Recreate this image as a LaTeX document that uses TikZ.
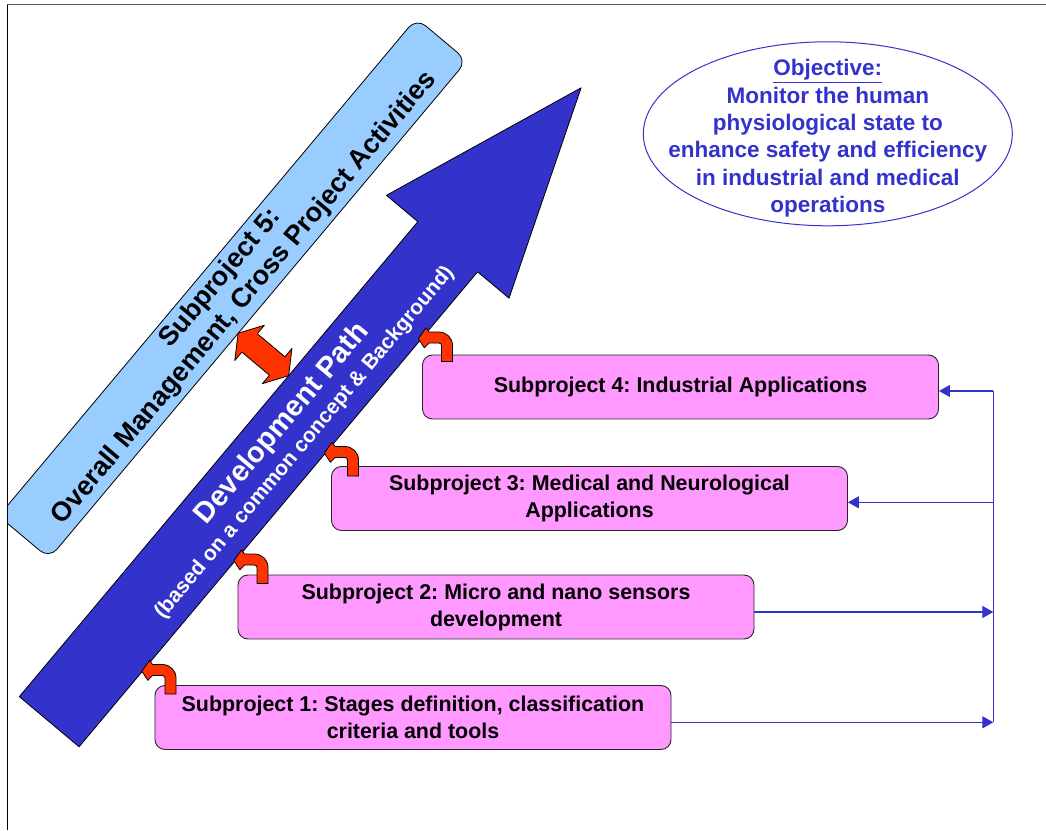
\documentclass[tikz,border=0pt]{standalone}
\usepackage{fontspec}
\setmainfont{Liberation Sans}
\usepackage{tikz}
\usetikzlibrary{calc}
\usetikzlibrary{shapes}
\usetikzlibrary{arrows.meta}
\definecolor{pathblue}{RGB}{51,51,204}
\definecolor{boxpink}{RGB}{255,153,255}
\definecolor{barblue}{RGB}{153,204,255}
\definecolor{linkred}{RGB}{255,51,0}
\frenchspacing

\begin{document}
\begin{tikzpicture}[x=1pt,y=1pt,line join=round,>={Triangle[length=11pt,width=12pt]},
  subbox/.style={draw=black!85,line width=0.9pt,fill=boxpink,rounded corners=10pt,minimum width=516pt,minimum height=64pt,inner sep=0pt,align=center,font=\fontsize{21.4}{27}\selectfont\bfseries},
  link/.style={draw=pathblue,line width=1.3pt},
  bendarrow/.pic={\draw[fill=linkred,line width=0.8pt] (5.5,0) -- (5.5,16) arc[start angle=0,end angle=90,radius=13.5] -- (-18,29.5) -- (-21,33.7) -- (-28.7,23) -- (-22.7,13.7) -- (-18,18.5) -- (-8,18.5) arc[start angle=90,end angle=0,radius=2.5] -- (-5.5,0) -- cycle;}]
\useasboundingbox (0,0) rectangle (1046,830);
\begin{scope}
\clip (7.3,0) rectangle (1046,830);
\node[draw=black,line width=0.8pt,fill=barblue,rounded corners=12pt,minimum width=650pt,minimum height=66pt,inner sep=0pt,rotate=50,align=center,font=\fontsize{27}{31}\selectfont\bfseries] (sp5) at (232.85,541.7) {Subproject 5:\\Overall Management, Cross Project Activities};
\begin{scope}[shift={(49.2,108.3)},rotate=50]
\draw[fill=pathblue,line width=0.8pt] (0,-39) -- (620,-39) -- (620,-80) -- (827.5,0) -- (620,80) -- (620,39) -- (0,39) -- cycle;
\draw[fill=linkred,line width=0.8pt] (419,39) -- (442,54) -- (431,54) -- (431,90) -- (442,90) -- (419,105) -- (396,90) -- (407,90) -- (407,54) -- (396,54) -- cycle;
\node[text=white,rotate=50,align=center,font=\fontsize{21}{27}\selectfont\bfseries] (devpath) at (378,0) {{\fontsize{29}{27}\selectfont Development Path}\\(based on a common concept \& Background)};
\end{scope}
\end{scope}

\node[subbox] (sp1) at (413,112.5) {Subproject 1: Stages definition, classification\\criteria and tools};
\node[subbox] (sp2) at (496,223) {Subproject 2: Micro and nano sensors\\development};
\node[subbox] (sp3) at (589.5,331.5) {Subproject 3: Medical and Neurological\\Applications};
\node[subbox] (sp4) at (680.5,443) {Subproject 4: Industrial Applications};

\pic at ([shift={(16,-9)}]sp1.north west) {bendarrow};
\pic at ([shift={(25,-9)}]sp2.north west) {bendarrow};
\pic at ([shift={(22,-10)}]sp3.north west) {bendarrow};
\pic at ([shift={(25,-7)}]sp4.north west) {bendarrow};

\coordinate (bus4) at (993.3,439);
\coordinate (bus3) at (993.3,327.7);
\coordinate (bus2) at (993.3,218);
\coordinate (bus1) at (993.3,107.7);
\draw[link] (bus1) -- (bus4);
\draw[link,->] (bus4) -- (bus4 -| sp4.east);
\draw[link,->] (bus3) -- (bus3 -| sp3.east);
\draw[link,->] (bus2 -| sp2.east) -- (bus2);
\draw[link,->] (bus1 -| sp1.east) -- (bus1);

\node[ellipse,draw=pathblue,line width=1pt,minimum width=369pt,minimum height=184pt,inner sep=0pt] (obj) at (827.8,696.2) {};
\node[text=pathblue,align=center,font=\fontsize{22.5}{27.3}\selectfont\bfseries] (objtext) at ([yshift=-4.5pt]obj.center) {\underline{Objective:}\\Monitor the human\\physiological state to\\enhance safety and efficiency\\in industrial and medical\\operations};

\draw[black!65,line width=1.3pt] (7.3,825.3) -- (1046,825.3);
\draw[black,line width=1.3pt] (7.3,825.3) -- (7.3,0);
\end{tikzpicture}
\end{document}
